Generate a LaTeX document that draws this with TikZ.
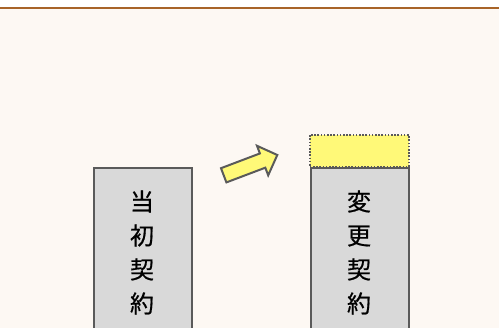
\documentclass[tikz,border=0pt]{standalone}
\usepackage{fontspec}
\newfontfamily\cjk[FakeBold=0.6]{Noto Sans CJK JP}
\definecolor{bgcream}{HTML}{FDF8F3}
\definecolor{topline}{HTML}{A86428}
\definecolor{boxgray}{HTML}{D9D9D9}
\definecolor{edgegray}{HTML}{5A5A5A}
\definecolor{hiyellow}{HTML}{FFF978}
\tikzset{
  contractbox/.style={draw=edgegray, fill=boxgray, line width=2pt, rectangle, inner sep=0pt,
    minimum width=98pt, minimum height=190pt, anchor=north west},
  addbox/.style={draw=edgegray, fill=hiyellow, line width=1.6pt, dash pattern=on 1.6pt off 1.6pt, rectangle, inner sep=0pt,
    minimum width=99pt, minimum height=32pt, anchor=north west},
  vlabel/.style={font=\cjk\fontsize{24pt}{34pt}\selectfont, align=center, inner sep=0pt, text=black},
}
\begin{document}
\begin{tikzpicture}[x=1pt,y=-1pt]
\useasboundingbox (0,0) rectangle (499,328);
\fill[white] (0,0) rectangle (499,328);
\fill[bgcream] (0,7.5) rectangle (499,328);
\fill[topline] (0,6.6) rectangle (499,8.6);
\begin{scope}
\clip (0,0) rectangle (499,328);
\node[contractbox] (orig) at (93,167) {};
\node[contractbox] (changed) at (310,167) {};
\node[addbox] (extra) at (309,134) {};
\node[vlabel] (origtext) at (142,252.5) {当\\初\\契\\約};
\node[vlabel] (changedtext) at (359,252.5) {変\\更\\契\\約};
\draw[edgegray, fill=hiyellow, line width=2pt, line join=miter]
  (221.0,168.2) -- (259.9,153.45) -- (257.0,145.8) -- (277.3,155) -- (268.2,175.3) -- (265.3,167.7) -- (226.4,182.4) -- cycle;
\end{scope}
\end{tikzpicture}
\end{document}
